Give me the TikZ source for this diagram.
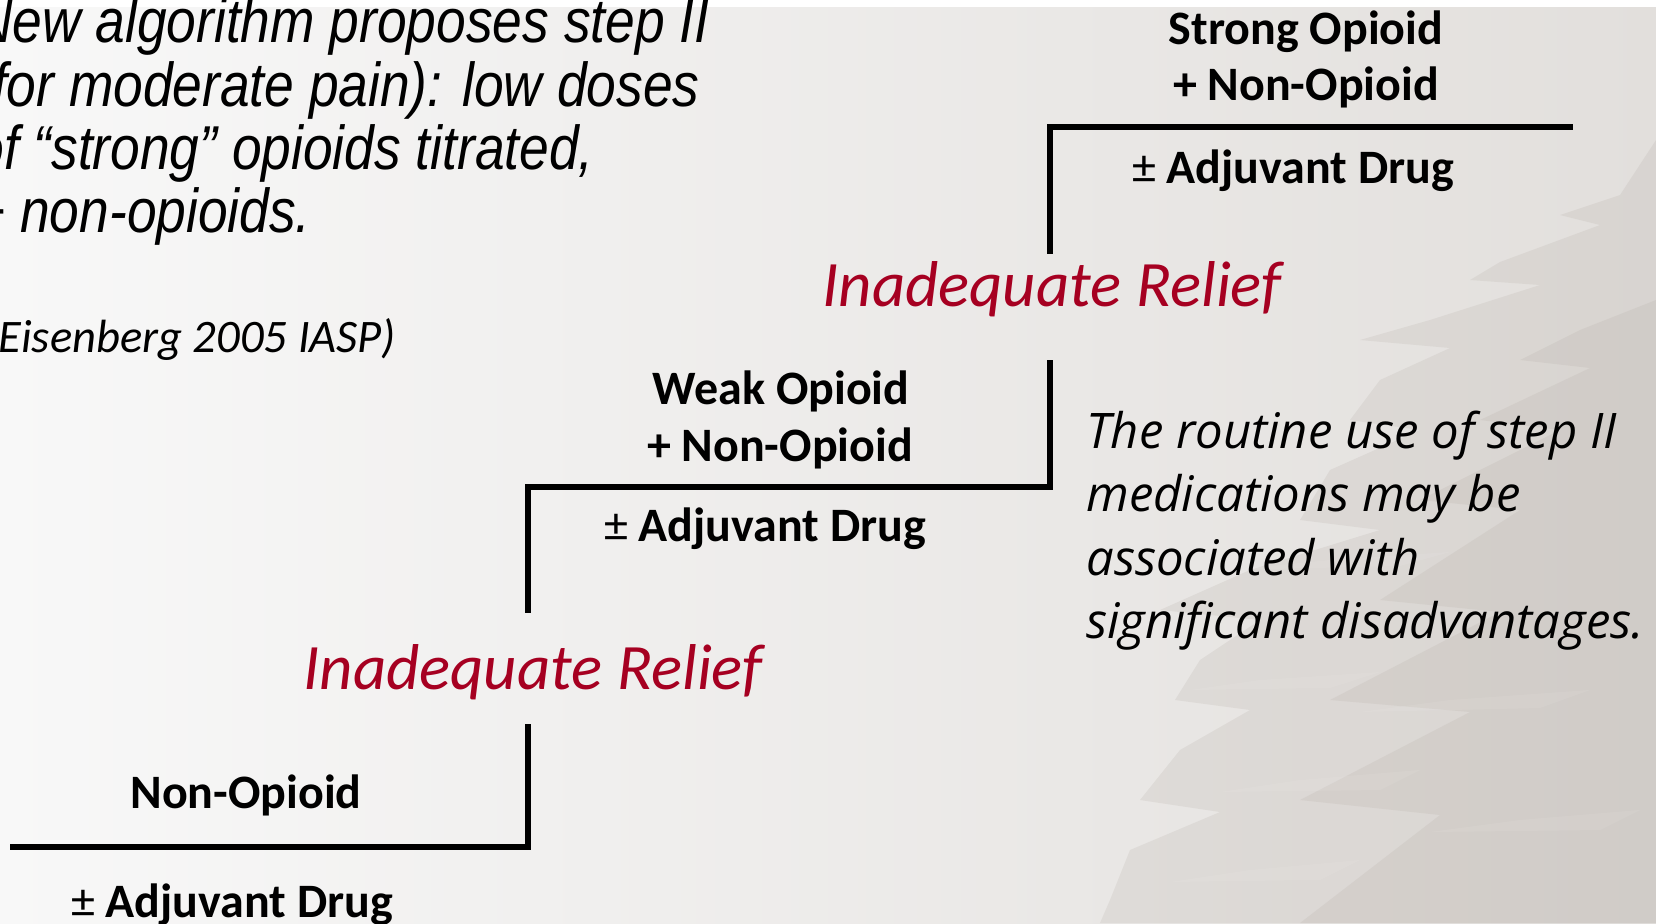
\documentclass[tikz,border=0pt]{standalone}
\usepackage{fontspec}
\setmainfont{Carlito}
\newfontfamily\notefont[FakeStretch=0.86]{Liberation Sans}
\newfontfamily\remarkfont{Open Sans}

\definecolor{reliefred}{RGB}{166,0,33}
\definecolor{bgleft}{RGB}{248,248,248}
\definecolor{bgright}{RGB}{226,223,220}
\definecolor{treeshade}{RGB}{180,172,165}

\newcommand{\plusminus}{{\mdseries ±}}

\tikzset{
  stair/.style={line width=3.4pt, line join=miter, line cap=rect},
  druglabel/.style={anchor=base, inner sep=0pt, font=\fontsize{24pt}{28pt}\selectfont\bfseries},
  relieflabel/.style={anchor=base, inner sep=0pt, text=reliefred,
    font=\fontsize{32.4pt}{36pt}\selectfont\itshape},
  remark/.style={anchor=base west, inner sep=0pt,
    font=\remarkfont\fontsize{24.5pt}{31pt}\selectfont\itshape},
  noteline/.style={anchor=base west, inner sep=0pt,
    font=\notefont\fontsize{31pt}{32pt}\selectfont\itshape},
  branch/.style={fill=treeshade, opacity=0.2},
  streak/.style={fill=white, opacity=0.07},
}

\begin{document}
\begin{tikzpicture}[x=0.5pt, y=-0.5pt]
\useasboundingbox (0,0) rectangle (1656,923);
\begin{scope}
\clip (0,0) rectangle (1656,923);

% slide background
\shade[left color=bgleft, right color=bgright] (0,7) rectangle (1656,923);
\fill[white] (0,0) rectangle (1656,7);

% faint fir tree on the right
\fill[branch]
  (1656,140) -- (1620,195) -- (1560,215) -- (1600,225) -- (1500,262)
  -- (1470,280) -- (1540,285) -- (1430,320) -- (1360,340) -- (1450,348)
  -- (1380,380) -- (1350,420) -- (1420,430) -- (1330,470) -- (1300,520)
  -- (1380,530) -- (1250,570) -- (1160,610) -- (1260,620) -- (1200,660)
  -- (1175,700) -- (1250,710) -- (1180,750) -- (1140,800) -- (1220,812)
  -- (1130,850) -- (1110,900) -- (1100,923) -- (1656,923) -- cycle;
\fill[branch]
  (1656,300) -- (1580,330) -- (1520,360) -- (1590,368) -- (1480,420)
  -- (1560,430) -- (1420,500) -- (1520,510) -- (1380,600) -- (1500,612)
  -- (1330,700) -- (1470,712) -- (1300,800) -- (1440,815) -- (1300,923)
  -- (1656,923) -- cycle;
% lighter gaps between the branches
\fill[streak] (1330,560) -- (1450,552) -- (1400,566) -- (1230,570) -- cycle;
\fill[streak] (1260,680) -- (1380,672) -- (1330,688) -- (1190,690) -- cycle;
\fill[streak] (1450,700) -- (1590,690) -- (1540,708) -- (1360,712) -- cycle;
\fill[streak] (1300,780) -- (1420,770) -- (1380,790) -- (1220,792) -- cycle;
\fill[streak] (1520,820) -- (1640,810) -- (1600,830) -- (1430,832) -- cycle;
\fill[streak] (1250,870) -- (1360,860) -- (1320,880) -- (1170,882) -- cycle;

% explanatory note, top left
\node[noteline] (n1) at (-26,42)  {New algorithm proposes step II};
\node[noteline] (n2) at (-26,106) {(for moderate pain): low doses};
\node[noteline] (n3) at (-26,169) {of “strong” opioids titrated,};
\node[noteline] (n4) at (-26,232) {+ non-opioids.};
\node[anchor=base west, inner sep=0pt, font=\fontsize{23.3pt}{27pt}\selectfont\itshape]
  (ref) at (-16,352) {(Eisenberg 2005 IASP)};

% staircase corners
\coordinate (s1a) at (13,847);
\coordinate (s1b) at (528,847);
\coordinate (s1c) at (528,727);
\coordinate (s2a) at (528,610);
\coordinate (s2b) at (1050,487);
\coordinate (s2c) at (1050,363);
\coordinate (s3a) at (1050,251);
\coordinate (s3b) at (1570,127);

\draw[stair] (s1a) -- (s1b) -- (s1c);
\draw[stair] (s2a) |- (s2b) -- (s2c);
\draw[stair] (s3a) |- (s3b);

% step I
\node[druglabel] (nonop) at (246,808) {Non-Opioid};
\node[druglabel] (adj1) at (232,917) {\plusminus\ Adjuvant Drug};
\node[relieflabel] (rel1) at (533,689) {Inadequate Relief};

% step II
\node[druglabel] (weak) at (781,404) {Weak Opioid};
\node[druglabel] (weakplus) at (780,461) {+ Non-Opioid};
\node[druglabel] (adj2) at (765,541) {\plusminus\ Adjuvant Drug};
\node[relieflabel] (rel2) at (1052,306) {Inadequate Relief};

% step III
\node[druglabel] (strong) at (1306,44) {Strong Opioid};
\node[druglabel] (strongplus) at (1306,100) {+ Non-Opioid};
\node[druglabel] (adj3) at (1293,183) {\plusminus\ Adjuvant Drug};

% remark on step II
\node[remark] (r1) at (1086,448) {The routine use of step II};
\node[remark] (r2) at (1086,511) {medications may be};
\node[remark] (r3) at (1086,575) {associated with};
\node[remark] (r4) at (1086,638) {significant disadvantages.};
\end{scope}
\end{tikzpicture}
\end{document}
